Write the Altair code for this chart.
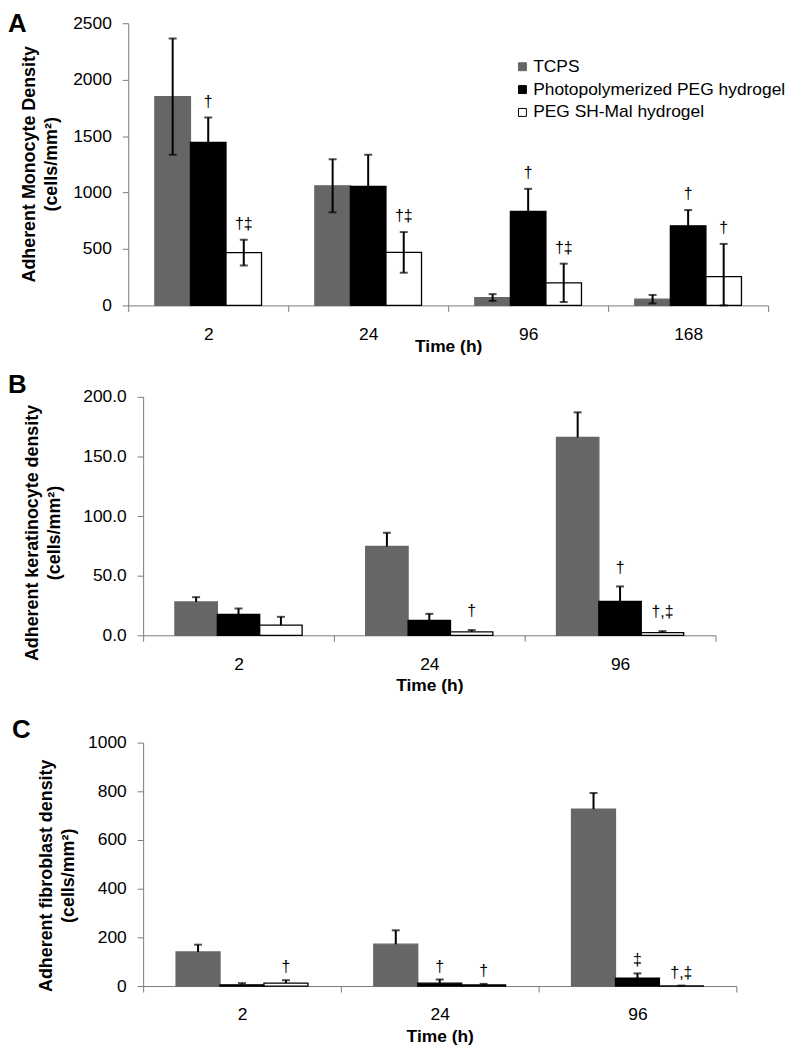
import altair as alt
import pandas as pd

FONT = "Liberation Sans"

groups = ["TCPS", "Photopolymerized PEG hydrogel", "PEG SH-Mal hydrogel"]
fills = ["#666666", "#000000", "#ffffff"]
outlines = ["#666666", "#000000", "#000000"]
panel_letters = ["A", "B", "C"]
x_title = "Time (h)"

# ---- Panel A: monocytes (symmetric error bars)
a_times = ["2", "24", "96", "168"]
a_tcps = [1850, 1060, 70, 55]
a_tcps_err = [515, 235, 30, 38]
a_peg = [1445, 1055, 833, 705]
a_peg_err = [220, 280, 200, 140]
a_mal = [468, 470, 200, 255]
a_mal_err = [114, 180, 170, 290]
a_tcps_sig = ["", "", "", ""]
a_peg_sig = ["†", "", "†", "†"]
a_mal_sig = ["†‡", "†‡", "†‡", "†"]
a_title = ["Adherent Monocyte Density", "(cells/mm²)"]

# ---- Panel B: keratinocytes (upper error bars)
b_times = ["2", "24", "96"]
b_tcps = [28.0, 74.5, 166.0]
b_tcps_err = [4.0, 11.5, 21.0]
b_peg = [17.5, 12.5, 28.5]
b_peg_err = [5.0, 5.5, 12.5]
b_mal = [8.5, 2.8, 2.2]
b_mal_err = [7.0, 1.6, 1.3]
b_tcps_sig = ["", "", ""]
b_peg_sig = ["", "", "†"]
b_mal_sig = ["", "†", "†,‡"]
b_title = ["Adherent keratinocyte density", "(cells/mm²)"]

# ---- Panel C: fibroblasts (upper error bars)
c_times = ["2", "24", "96"]
c_tcps = [140, 172, 727]
c_tcps_err = [30, 57, 66]
c_peg = [5, 12, 33]
c_peg_err = [7, 15, 19]
c_mal = [12, 5, 1]
c_mal_err = [12, 4, 1]
c_tcps_sig = ["", "", ""]
c_peg_sig = ["", "†", "‡"]
c_mal_sig = ["†", "†", "†,‡"]
c_title = ["Adherent fibroblast density", "(cells/mm²)"]


def long_table(times, means, errs, sigs, symmetric):
    rows = []
    for g, m, e, s in zip(groups, means, errs, sigs):
        for t, mv, ev, sv in zip(times, m, e, s):
            lo = max(0, mv - ev) if symmetric else mv
            rows.append({"time": t, "group": g, "value": mv, "lo": lo,
                         "hi": mv + ev, "sig": sv})
    return pd.DataFrame(rows)


def panel(df, times, letter, ytitle, ymax, ystep, yfmt, x_off, plot_w,
          y_off, plot_h, title_x, title_y, xtitle_y, letter_x, letter_y,
          sig_dy, symmetric, show_legend):
    xscale = alt.Scale(domain=times, range=[x_off, x_off + plot_w],
                       paddingInner=0, paddingOuter=0)
    xaxis = alt.Axis(title=x_title, tickBand="extent", labelAngle=0,
                     labelPadding=14, tickSize=6, titleY=xtitle_y,
                     titleBaseline="middle")
    x = alt.X("time:N", sort=times, scale=xscale, axis=xaxis)
    xo = alt.XOffset("group:N", sort=groups,
                     scale=alt.Scale(domain=groups, paddingInner=0,
                                     paddingOuter=0.75))
    yscale = alt.Scale(domain=[0, ymax], range=[y_off + plot_h, y_off],
                       nice=False, zero=True)
    tick_vals = [v * ystep for v in range(int(round(ymax / ystep)) + 1)]
    yaxis = alt.Axis(title=ytitle, values=tick_vals, format=yfmt,
                     offset=-x_off, titleX=title_x, titleY=title_y,
                     titleAngle=270, titleBaseline="middle",
                     titleAlign="center", titleLineHeight=22,
                     titleFontSize=18, labelPadding=11, tickSize=6)

    if show_legend:
        legend = alt.Legend(title=None, orient="none", legendX=388,
                            legendY=35, symbolType="square", symbolSize=64,
                            labelFontSize=17.5, labelFont=FONT,
                            labelColor="black", rowPadding=4, labelOffset=2,
                            labelLimit=0, padding=0,
                            symbolStrokeColor="#333333",
                            symbolStrokeWidth=1)
    else:
        legend = None

    base = alt.Chart(df)
    bars = base.mark_bar(strokeWidth=1.3).encode(
        x=x, xOffset=xo,
        y=alt.Y("value:Q", scale=yscale, axis=yaxis),
        fill=alt.Fill("group:N", sort=groups,
                      scale=alt.Scale(domain=groups, range=fills),
                      legend=legend),
        stroke=alt.Stroke("group:N", sort=groups,
                          scale=alt.Scale(domain=groups, range=outlines),
                          legend=None),
    )
    rules = base.mark_rule(color="black", strokeWidth=2).encode(
        x=x, xOffset=xo,
        y=alt.Y("lo:Q", scale=yscale, axis=yaxis), y2="hi:Q")
    caps_hi = base.mark_tick(color="black", thickness=2, size=8).encode(
        x=x, xOffset=xo, y=alt.Y("hi:Q", scale=yscale, axis=yaxis))
    layers = [bars, rules, caps_hi]
    if symmetric:
        caps_lo = base.mark_tick(color="black", thickness=2, size=8).encode(
            x=x, xOffset=xo, y=alt.Y("lo:Q", scale=yscale, axis=yaxis))
        layers.append(caps_lo)
    sigs = base.mark_text(dy=sig_dy, fontSize=16, font=FONT,
                          color="black").encode(
        x=x, xOffset=xo, y=alt.Y("hi:Q", scale=yscale, axis=yaxis),
        text="sig:N")
    layers.append(sigs)
    lab = alt.Chart(pd.DataFrame({"letter": [letter]})).mark_text(
        align="left", baseline="top", fontSize=26, fontWeight="bold",
        font=FONT, color="black").encode(
        x=alt.value(letter_x), y=alt.value(letter_y), text="letter:N")
    layers.append(lab)
    return alt.layer(*layers).properties(width=x_off + plot_w,
                                         height=y_off + plot_h)


dfA = long_table(a_times, [a_tcps, a_peg, a_mal],
                 [a_tcps_err, a_peg_err, a_mal_err],
                 [a_tcps_sig, a_peg_sig, a_mal_sig], True)
dfB = long_table(b_times, [b_tcps, b_peg, b_mal],
                 [b_tcps_err, b_peg_err, b_mal_err],
                 [b_tcps_sig, b_peg_sig, b_mal_sig], False)
dfC = long_table(c_times, [c_tcps, c_peg, c_mal],
                 [c_tcps_err, c_peg_err, c_mal_err],
                 [c_tcps_sig, c_peg_sig, c_mal_sig], False)

chartA = panel(dfA, a_times, panel_letters[0], a_title, 2500, 500, "d",
               0, 644, 0, 284, -99.5, 141.5, 41, -121, -12, -16, True, True)
chartB = panel(dfB, b_times, panel_letters[1], b_title, 200, 50, ".1f",
               15, 576, 0, 240, -111, 136.5, 51, -121, -25, -19, False,
               False)
chartC = panel(dfC, c_times, panel_letters[2], c_title, 1000, 200, "d",
               15, 597, 16, 245, -97.5, 149.5, 51, -117, -10, -13, False,
               False)

chart = alt.vconcat(chartA, chartB, chartC, spacing=92, bounds="flush")
chart = chart.resolve_scale(
    x="independent", y="independent", xOffset="independent",
    fill="independent", stroke="independent"
).resolve_legend(fill="independent").properties(
    padding={"left": 0, "top": 0, "right": 0, "bottom": 0}
).configure_view(stroke=None).configure_axis(
    labelFont=FONT, titleFont=FONT, labelFontSize=17.5, titleFontSize=17.5,
    titleFontWeight="bold", labelColor="black", titleColor="black",
    domainColor="#7a7a7a", tickColor="#7a7a7a", grid=False
)

chart.save("out.html", embed_options={"renderer": "svg", "actions": False})
